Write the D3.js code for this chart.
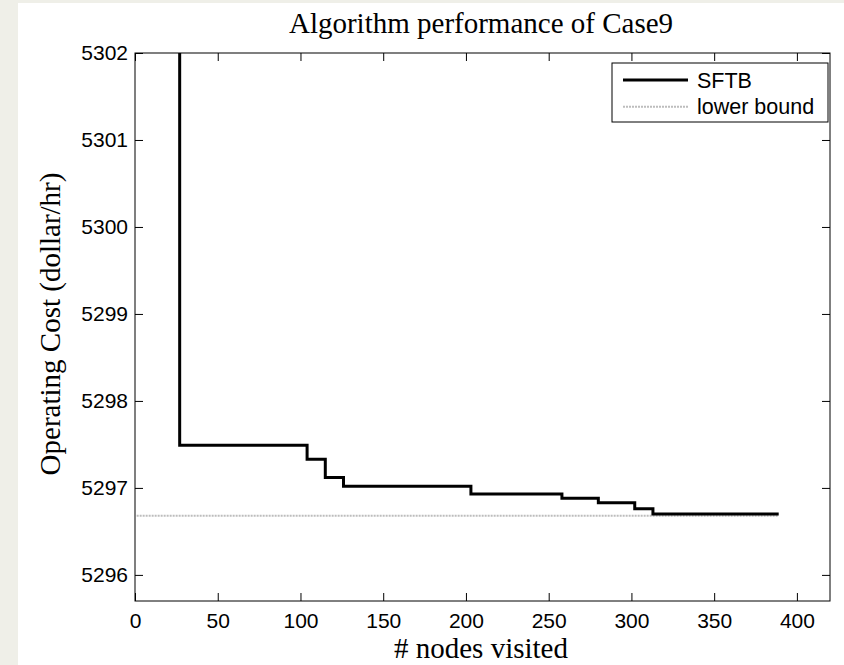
<!DOCTYPE html>
<html>
<head>
<meta charset="utf-8">
<script src="https://cdn.jsdelivr.net/npm/d3@7"></script>
<style>
  html, body { margin: 0; padding: 0; background: #efefe8; }
  svg { display: block; }
</style>
</head>
<body>
<script>
// Branch-and-bound progress: best operating cost found vs. nodes visited
const nodesVisited = [27, 27, 104, 115, 126, 203, 258, 280, 302, 313, 389];
const sftbCost = [5302.5, 5297.49, 5297.33, 5297.12, 5297.02, 5296.93, 5296.88, 5296.83, 5296.76, 5296.70, 5296.70];
const boundNodes = [1, 389];
const lowerBound = [5296.68, 5296.68];
const xTicks = [0, 50, 100, 150, 200, 250, 300, 350, 400];
const yTicks = [5296, 5297, 5298, 5299, 5300, 5301, 5302];
const legendLabels = ["SFTB", "lower bound"];

const W = 844, H = 665;
const plot = { left: 135, right: 830, top: 53, bottom: 601 };
const serif = "'Liberation Serif', 'Times New Roman', serif";
const sans = "'Liberation Sans', Arial, Helvetica, sans-serif";

const svg = d3.select("body").append("svg").attr("width", W).attr("height", H);

// figure background
svg.append("rect").attr("x", 18).attr("y", 3).attr("width", W - 18).attr("height", H - 3).attr("fill", "#ffffff");

const x = d3.scaleLinear().domain([0, 420]).range([plot.left, plot.right]);
const y = d3.scaleLinear().domain([5295.7, 5302]).range([plot.bottom, plot.top]);

svg.append("clipPath").attr("id", "plot-clip")
  .append("rect")
  .attr("x", plot.left).attr("y", plot.top)
  .attr("width", plot.right - plot.left).attr("height", plot.bottom - plot.top);

// axes with inward ticks on all four sides
const tickLen = 8;
const styleAxis = g => {
  g.selectAll(".domain").remove();
  g.selectAll(".tick line").attr("stroke", "#000").attr("stroke-width", 1);
  g.selectAll("text").attr("font-family", sans).attr("font-size", "21px").attr("fill", "#000");
};

svg.append("g").attr("transform", `translate(0,${plot.bottom})`)
  .call(d3.axisBottom(x).tickValues(xTicks).tickFormat(d3.format("d")).tickSizeInner(-tickLen).tickSizeOuter(0).tickPadding(12))
  .call(styleAxis);
svg.append("g").attr("transform", `translate(0,${plot.top})`)
  .call(d3.axisTop(x).tickValues(xTicks).tickFormat("").tickSizeInner(-tickLen).tickSizeOuter(0))
  .call(styleAxis);
svg.append("g").attr("transform", `translate(${plot.left},0)`)
  .call(d3.axisLeft(y).tickValues(yTicks).tickFormat(d3.format("d")).tickSizeInner(-tickLen).tickSizeOuter(0).tickPadding(7))
  .call(styleAxis);
svg.append("g").attr("transform", `translate(${plot.right},0)`)
  .call(d3.axisRight(y).tickValues(yTicks).tickFormat("").tickSizeInner(-tickLen).tickSizeOuter(0))
  .call(styleAxis);

// plot box
svg.append("rect")
  .attr("x", plot.left).attr("y", plot.top)
  .attr("width", plot.right - plot.left).attr("height", plot.bottom - plot.top)
  .attr("fill", "none").attr("stroke", "#000").attr("stroke-width", 1);

const dataArea = svg.append("g").attr("clip-path", "url(#plot-clip)");

// lower bound
const boundLine = d3.line().x((d, i) => x(boundNodes[i])).y(d => y(d));
dataArea.append("path")
  .attr("d", boundLine(lowerBound))
  .attr("fill", "none").attr("stroke", "#bdbdbd").attr("stroke-width", 2)
  .attr("stroke-dasharray", "2,1");

// SFTB incumbent cost (step function)
const stepLine = d3.line().curve(d3.curveStepAfter).x((d, i) => x(nodesVisited[i])).y(d => y(d));
dataArea.append("path")
  .attr("d", stepLine(sftbCost))
  .attr("fill", "none").attr("stroke", "#000").attr("stroke-width", 3)
  .attr("stroke-linejoin", "miter");

// legend
const legend = svg.append("g");
legend.append("rect")
  .attr("x", 612).attr("y", 63).attr("width", 216).attr("height", 59)
  .attr("fill", "#fff").attr("stroke", "#000").attr("stroke-width", 1);
const legendStyles = [
  { stroke: "#000", width: 3, dash: null },
  { stroke: "#bdbdbd", width: 2, dash: "2,1" }
];
legendLabels.forEach((label, i) => {
  const ly = 80 + i * 26.7;
  legend.append("line")
    .attr("x1", 623).attr("x2", 688).attr("y1", ly).attr("y2", ly)
    .attr("stroke", legendStyles[i].stroke).attr("stroke-width", legendStyles[i].width)
    .attr("stroke-dasharray", legendStyles[i].dash);
  legend.append("text")
    .attr("x", 697).attr("y", ly).attr("dy", "0.36em")
    .attr("font-family", sans).attr("font-size", "21.5px").text(label);
});

// title and axis labels
svg.append("text")
  .attr("x", 481).attr("y", 33)
  .attr("text-anchor", "middle").attr("font-family", serif).attr("font-size", "29px")
  .text("Algorithm performance of Case9");
svg.append("text")
  .attr("x", 481).attr("y", 658)
  .attr("text-anchor", "middle").attr("font-family", serif).attr("font-size", "29px")
  .text("# nodes visited");
svg.append("text")
  .attr("transform", "translate(60,324) rotate(-90)")
  .attr("text-anchor", "middle").attr("font-family", serif).attr("font-size", "29px")
  .text("Operating Cost (dollar/hr)");
</script>
</body>
</html>
